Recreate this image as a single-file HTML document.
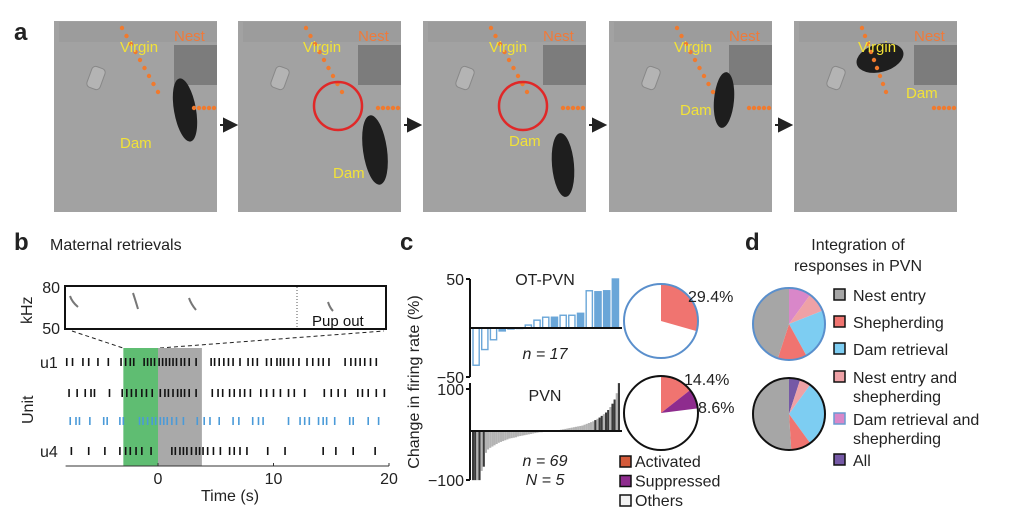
<!DOCTYPE html>
<html><head><meta charset="utf-8"><style>
html,body{margin:0;padding:0;background:#fff;}
svg{display:block;font-family:"Liberation Sans",Arial,sans-serif;}
</style></head><body>
<svg id="fig" width="1020" height="526" viewBox="0 0 1020 526" xmlns="http://www.w3.org/2000/svg">
<g id="panelA"></g>
<text x="14" y="40" font-size="24" font-weight="bold" fill="#222">a</text>
<g id="panelB"></g>
<g id="panelC"></g>
<g id="panelD"></g>
</svg>
<script>
// ---------- data ----------
const frameXs = [54, 238, 423, 609, 794];
const u1Spikes = [-7.9,-7.4,-6.5,-6,-5.2,-4.3,-3.2,-2.8,-2.4,-2.1,-1.2,-0.9,-0.6,-0.3,0.1,0.4,0.7,1,1.3,1.6,2,2.3,2.7,3.3,4.6,4.9,5.3,5.7,6.1,6.5,7.1,7.8,8.2,8.6,9.4,9.8,10.3,10.6,10.9,11.3,11.7,12.2,12.9,13.4,13.9,14.3,14.8,16.2,16.7,17.1,17.5,17.9,18.4,18.9];
const u2Spikes = [-7.7,-7,-6.3,-5.8,-5.5,-4.2,-3.1,-2.7,-2.3,-1.9,-1.4,-1,-0.5,0.2,0.6,0.9,1.3,1.7,2,2.3,2.7,3.3,4.7,5.2,5.6,6.2,6.6,7.1,7.5,8,8.9,9.4,10,10.6,11.3,11.8,12.7,14.4,15,15.6,16.2,17.3,17.7,18.2,18.9,19.6];
const u3Spikes = [-7.6,-7.1,-6.8,-5.9,-4.7,-4.4,-3.3,-3,-1.6,-1.3,-0.9,-0.5,-0.2,0.2,0.5,0.8,1.2,1.6,2.2,3.4,4,4.5,5.3,6.5,7,8.2,8.7,9.1,11.3,12.3,12.7,13.1,13.9,14.3,14.6,15.3,16.6,16.9,18.2,19.1];
const u4Spikes = [-7.5,-6,-4.6,-3.3,-2.8,-2.4,-1.9,-1.4,-0.6,1.2,1.5,1.9,2.2,2.5,2.9,3.3,3.6,3.9,4.3,4.8,5.4,6.2,6.6,7.1,7.7,9.5,11,14.3,15.4,16.9,18.8];
const rasterUnits = [u1Spikes, u2Spikes, u3Spikes, u4Spikes];
const timeTicks = [0, 10, 20];

const otValues = [-38,-22,-12,-3,-1,0,3,8,11,11,13,13,15,38,37,38,50];
const otFilled = [0,0,0,1,1,1,0,0,0,1,0,0,1,0,1,1,1];
const pvnValues = [-117,-117,-117,-117,-95,-85,-52,-44,-40,-37,-34,-31,-28,-26,-24,-22,-20,-18,-17,-16,-15,-13,-12,-11,-10,-9,-8,-7,-6,-5,-4,-3,-3,-2,-1,-1,0,1,1,2,2,3,4,5,6,7,8,9,10,11,12,13,15,17,19,21,23,26,29,32,36,40,44,50,57,65,75,90,114];
const pvnSig = [1,1,0,1,0,1,0,0,0,0,0,0,0,0,0,0,0,0,0,0,0,0,0,0,0,0,0,0,0,0,0,0,0,0,0,0,0,0,0,0,0,0,0,0,0,0,0,0,0,0,0,0,0,0,0,0,0,1,0,1,1,0,1,1,0,1,1,0,1];
const otPie = [29.4, 0];
const pvnPie = [14.4, 8.6];

const dLabels = ["Nest entry","Shepherding","Dam retrieval","Nest entry and shepherding","Dam retrieval and shepherding","All"];
const dColors = ["#a6a6a6","#f07470","#7dcdf2","#eea1a6","#d987c9","#7559a6"];
const dTopPie = [45, 13, 23, 9, 10, 0];
const dBotPie = [51, 9, 30, 5, 0, 5];

const NS = "http://www.w3.org/2000/svg";
function mk(tag, attrs, parent){ const e=document.createElementNS(NS,tag); for(const k in attrs) e.setAttribute(k,attrs[k]); parent.appendChild(e); return e; }
function txt(s, attrs, parent){ const e=mk("text",attrs,parent); e.textContent=s; return e; }

// ---------- panel a ----------
const A = document.getElementById("panelA");
const frameMice = [[185,110,11,32,-10],[375,150,12,35,-8],[563,165,11,32,-5],[724,100,10,28,5],[880,58,24,14,-15]];
const virginLbl = [[120,52],[303,52],[489,52],[674,52],[858,52]];
const damLbl = [[120,148],[333,178],[509,146],[680,115],[906,98]];
frameXs.forEach((x,i)=>{
  const g=mk("g",{},A);
  
  
  mk("rect",{x:x,y:21,width:163,height:191,fill:"#a2a2a2"},g);
  mk("rect",{x:x+5,y:22,width:158,height:20,fill:"#979797",opacity:0.6},g);
  mk("rect",{x:x+120,y:45,width:43,height:40,fill:"#6c6c6c",opacity:0.7},g);
  mk("rect",{x:x+35,y:67,width:14,height:22,rx:4,fill:"#b4b4b4",stroke:"#888",transform:"rotate(20 "+(x+42)+" 78)"},g);
  const m=frameMice[i];
  mk("ellipse",{cx:m[0],cy:m[1],rx:m[2],ry:m[3],fill:"#1e1e1e",transform:"rotate("+m[4]+" "+m[0]+" "+m[1]+")"},g);
  for(let k=0;k<9;k++) mk("circle",{cx:x+68+k*3+(i>3?0:k*1.5),cy:28+k*8,r:2.2,fill:"#f07a2e"},g);
  for(let k=0;k<5;k++) mk("circle",{cx:x+140+k*5,cy:108,r:2.2,fill:"#f07a2e"},g);
  txt("Nest",{x:x+120,y:41,"font-size":15,fill:"#f07a3a"},g);
  txt("Virgin",{x:virginLbl[i][0],y:virginLbl[i][1],"font-size":15,fill:"#f2e238"},g);
  txt("Dam",{x:damLbl[i][0],y:damLbl[i][1],"font-size":15,fill:"#f2e238"},g);
  if(i===1||i===2) mk("circle",{cx:x+100,cy:106,r:24,fill:"none",stroke:"#e02828","stroke-width":2.5},g);
  if(i<4){
    const ar=mk("path",{d:"M"+(x+166)+" 125 L"+(x+178)+" 125 M"+(x+170)+" 119 L"+(x+182)+" 125 L"+(x+170)+" 131 Z",stroke:"#222","stroke-width":2,fill:"#222"},A);
    
    
  }
});

// ---------- panel b ----------
const B=document.getElementById("panelB");
const t0x=158, pxPerS=11.55;
const tx = t => t0x + t*pxPerS;
txt("b",{x:14,y:250,"font-size":24,"font-weight":"bold",fill:"#222"},B);
txt("Maternal retrievals",{x:50,y:250,"font-size":16,fill:"#222"},B);
const spec=mk("g",{},B);


mk("rect",{x:65,y:286,width:321,height:43,fill:"#fff",stroke:"#111","stroke-width":2},spec);
mk("line",{x1:297,y1:287,x2:297,y2:328,stroke:"#555","stroke-dasharray":"1 2"},spec);
[[70,296,78,307],[133,293,138,309],[189,298,196,310],[328,302,333,311]].forEach(c=>mk("path",{d:"M"+c[0]+" "+c[1]+" Q"+(c[0]+2)+" "+(c[1]+6)+" "+c[2]+" "+c[3],stroke:"#777","stroke-width":2,fill:"none"},spec));
txt("Pup out",{x:312,y:326,"font-size":15,fill:"#111"},spec);
txt("80",{x:60,y:293,"font-size":16,"text-anchor":"end",fill:"#222"},B);
txt("50",{x:60,y:334,"font-size":16,"text-anchor":"end",fill:"#222"},B);
txt("kHz",{x:0,y:0,"font-size":16,fill:"#222",transform:"translate(32 324) rotate(-90)"},B);
mk("line",{x1:72,y1:331,x2:123,y2:348,stroke:"#222","stroke-dasharray":"4 3"},B);
mk("line",{x1:160,y1:348,x2:384,y2:331,stroke:"#222","stroke-dasharray":"4 3"},B);
const bGreen=mk("rect",{x:tx(-3),y:348,width:tx(0)-tx(-3),height:118,fill:"#5fbd72"},B);

const bGray=mk("rect",{x:tx(0),y:348,width:tx(3.8)-tx(0),height:118,fill:"#a9a9a9"},B);

const rowY=[362,393,421,451];
rasterUnits.forEach((sp,u)=>{
  sp.forEach(t=>{
    const l=mk("line",{x1:tx(t),x2:tx(t),y1:rowY[u]-4,y2:rowY[u]+4,stroke:u===2?"#4a9ad8":"#111","stroke-width":1.6},B);
    
    
  });
});
txt("u1",{x:40,y:368,"font-size":16,fill:"#222"},B);
txt("u4",{x:40,y:457,"font-size":16,fill:"#222"},B);
txt("Unit",{x:0,y:0,"font-size":16,fill:"#222",transform:"translate(33 424) rotate(-90)"},B);
mk("line",{x1:tx(-8),x2:tx(20),y1:466,y2:466,stroke:"#333","stroke-width":1},B);
timeTicks.forEach(t=>{
  mk("line",{x1:tx(t),x2:tx(t),y1:463,y2:466,stroke:"#333"},B);
  txt(String(t),{x:tx(t),y:484,"font-size":16,"text-anchor":"middle",fill:"#222"},B);
});
txt("Time (s)",{x:230,y:501,"font-size":16,"text-anchor":"middle",fill:"#222"},B);

// ---------- panel c ----------
const C=document.getElementById("panelC");
txt("c",{x:400,y:250,"font-size":24,"font-weight":"bold",fill:"#222"},C);
const axX=470, barX0=472, barW=148;
const otZero=328, otScale=49/50;
const oy=v=>otZero - v*otScale;
mk("line",{x1:axX,x2:axX,y1:oy(50),y2:oy(-50),stroke:"#111","stroke-width":2},C);
[[50,"50"],[-50,"−50"]].forEach(d=>{mk("line",{x1:axX-4,x2:axX,y1:oy(d[0]),y2:oy(d[0]),stroke:"#111","stroke-width":2},C);txt(d[1],{x:axX-6,y:oy(d[0])+6,"font-size":16,"text-anchor":"end",fill:"#222"},C);});
const ow=barW/otValues.length;
otValues.forEach((v,i)=>{
  const y=Math.min(oy(v),otZero), h=Math.max(Math.abs(oy(v)-otZero),0.5);
  const r=mk("rect",{x:barX0+i*ow+1,y:y,width:ow-2.5,height:h,fill:otFilled[i]?"#6aa6d8":"#fff",stroke:"#6aa6d8","stroke-width":1.4},C);
  
  
});
mk("line",{x1:axX,x2:622,y1:otZero,y2:otZero,stroke:"#111","stroke-width":2},C);
txt("OT-PVN",{x:545,y:285,"font-size":16,"text-anchor":"middle",fill:"#222"},C);
txt("n = 17",{x:545,y:359,"font-size":16,"text-anchor":"middle",fill:"#222","font-style":"italic"},C);

const pvZero=431, pvScale=42/100;
const py=v=>pvZero - v*pvScale;
mk("line",{x1:axX,x2:axX,y1:383,y2:480,stroke:"#111","stroke-width":2},C);
[[100,"100"],[-100,"−100"]].forEach(d=>{const yy=d[0]>0?py(100):480;mk("line",{x1:axX-4,x2:axX,y1:yy,y2:yy,stroke:"#111","stroke-width":2},C);txt(d[1],{x:axX-6,y:yy+6,"font-size":16,"text-anchor":"end",fill:"#222"},C);});
const pw=barW/pvnValues.length;
pvnValues.forEach((v,i)=>{
  const y=Math.min(py(v),pvZero), h=Math.max(Math.abs(py(v)-pvZero),0.5);
  const r=mk("rect",{x:barX0+i*pw,y:y,width:pw,height:h,fill:pvnSig[i]?"#3a3a3a":"#b3b3b3"},C);
  
  
});
mk("line",{x1:axX,x2:622,y1:pvZero,y2:pvZero,stroke:"#111","stroke-width":2},C);
txt("PVN",{x:545,y:401,"font-size":16,"text-anchor":"middle",fill:"#222"},C);
txt("n = 69",{x:545,y:466,"font-size":16,"text-anchor":"middle",fill:"#222","font-style":"italic"},C);
txt("N = 5",{x:545,y:485,"font-size":16,"text-anchor":"middle",fill:"#222","font-style":"italic"},C);
txt("Change in firing rate (%)",{x:0,y:0,"font-size":16,"text-anchor":"middle",fill:"#222",transform:"translate(419 382) rotate(-90)"},C);

function pie(parent,cx,cy,r,vals,cols,border,name){
  const g=mk("g",{},parent);
  
  
  mk("circle",{cx:cx,cy:cy,r:r,fill:"#fff"},g);
  let a=0;
  vals.forEach((v,i)=>{
    if(v<=0) return;
    const a1=a+v/100*2*Math.PI;
    const x0=cx+r*Math.sin(a), y0=cy-r*Math.cos(a), x1=cx+r*Math.sin(a1), y1=cy-r*Math.cos(a1);
    const s=mk("path",{d:"M"+cx+" "+cy+" L"+x0+" "+y0+" A"+r+" "+r+" 0 "+(a1-a>Math.PI?1:0)+" 1 "+x1+" "+y1+" Z",fill:cols[i]},g);
    
    
    a=a1;
  });
  mk("circle",{cx:cx,cy:cy,r:r,fill:"none",stroke:border,"stroke-width":2},g);
}
pie(C,661,321,37,otPie,["#f07470","#8e2c8e"],"#5a8fcc","ot-pvn-pie");
pie(C,661,413,37,pvnPie,["#f07470","#8e2c8e"],"#111","pvn-pie");
txt(otPie[0]+"%",{x:688,y:302,"font-size":16,fill:"#222"},C);
txt(pvnPie[0]+"%",{x:684,y:385,"font-size":16,fill:"#222"},C);
txt(pvnPie[1]+"%",{x:698,y:413,"font-size":16,fill:"#222"},C);
[["Activated","#d45a3a"],["Suppressed","#8e2c8e"],["Others","#f2f2f2"]].forEach((d,i)=>{
  const y=456+i*19.5;
  const g=mk("g",{},C);
  
  
  mk("rect",{x:620,y:y,width:11,height:11,fill:d[1],stroke:"#111","stroke-width":1.5},g);
  txt(d[0],{x:635,y:y+11,"font-size":16,fill:"#222"},g);
});

// ---------- panel d ----------
const D=document.getElementById("panelD");
txt("d",{x:745,y:250,"font-size":24,"font-weight":"bold",fill:"#222"},D);
txt("Integration of",{x:858,y:250,"font-size":16,"text-anchor":"middle",fill:"#222"},D);
txt("responses in PVN",{x:858,y:271,"font-size":16,"text-anchor":"middle",fill:"#222"},D);
function reorder(v){ return [v[4],v[3],v[2],v[1],v[0],v[5]]; } // clockwise order from top
const topCols=[dColors[4],dColors[3],dColors[2],dColors[1],dColors[0]];
pie(D,789,324,36,[dTopPie[4],dTopPie[3],dTopPie[2],dTopPie[1],dTopPie[0]],topCols,"#5a8fcc","integration-pie-ot");
pie(D,789,414,36,[dBotPie[5],dBotPie[3],dBotPie[2],dBotPie[1],dBotPie[0]],[dColors[5],dColors[3],dColors[2],dColors[1],dColors[0]],"#111","integration-pie-pvn");
const legY=[289,316,343,371,413,454];
dLabels.forEach((lab,i)=>{
  const g=mk("g",{},D);
  
  
  mk("rect",{x:834,y:legY[i],width:11,height:11,fill:dColors[i],stroke:i===4?"#6a9ad0":"#111","stroke-width":1.5},g);
  const parts=lab.includes(" and ")?[lab.replace(" shepherding",""),"shepherding"]:[lab];
  parts.forEach((p,k)=>txt(p,{x:853,y:legY[i]+12+k*19,"font-size":16,fill:"#222"},g));
});
</script>
</body></html>
